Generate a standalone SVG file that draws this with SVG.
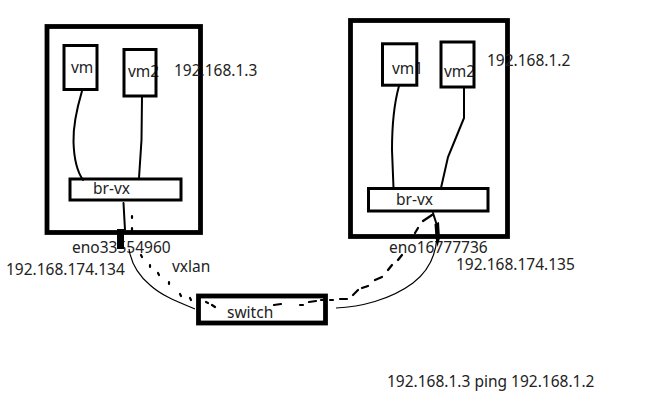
<svg xmlns="http://www.w3.org/2000/svg" width="647" height="412" viewBox="0 0 647 412">
<style>
.t{font-family:"Noto Sans","Liberation Sans",sans-serif;font-size:15.5px;fill:#222}
.host{fill:none;stroke:#000;stroke-width:4.8}
.box{fill:none;stroke:#000;stroke-width:3}
.wire{fill:none;stroke:#000;stroke-width:2;stroke-linecap:round}
.thin{fill:none;stroke:#000;stroke-width:1.2}
.dash{fill:none;stroke:#000;stroke-width:2.2;stroke-linecap:round}
</style>
<rect width="647" height="412" fill="#fff"/>
<g id="host-left">
  <rect class="host" x="47" y="26.5" width="153.5" height="206"/>
  <text class="t" x="174" y="76">192.168.1.3</text>
  <text class="t" x="72" y="253">eno33554960</text>
  <text class="t" x="6" y="275">192.168.174.134</text>
</g>
<g id="vm-left">
  <text class="t" x="71" y="73">vm</text>
  <rect class="box" x="64" y="45.5" width="33" height="44"/>
</g>
<g id="vm2-left">
  <text class="t" x="128" y="77">vm2</text>
  <rect class="box" x="124" y="49.5" width="32" height="46.5"/>
</g>
<g id="brvx-left">
  <rect class="box" x="70" y="179" width="111" height="21"/>
  <text class="t" x="93" y="194">br-vx</text>
</g>
<g id="host-right">
  <rect class="host" x="350.5" y="20.5" width="157" height="216"/>
  <text class="t" x="487" y="66">192.168.1.2</text>
  <text class="t" x="389" y="252.5">eno16777736</text>
  <text class="t" x="456" y="269.5">192.168.174.135</text>
</g>
<g id="vm1-right">
  <text class="t" x="392" y="74">vm1</text>
  <rect class="box" x="382.5" y="43.8" width="34.3" height="41.4"/>
</g>
<g id="vm2-right">
  <text class="t" x="444" y="77">vm2</text>
  <rect class="box" x="441" y="42" width="33" height="45"/>
</g>
<g id="brvx-right">
  <rect class="box" x="368.5" y="188.5" width="119.5" height="22.5"/>
  <text class="t" x="396" y="205">br-vx</text>
</g>
<g id="switch">
  <rect class="host" x="198.5" y="296" width="127" height="27" stroke-width="4.5"/>
  <text class="t" x="227" y="318">switch</text>
</g>
<g id="label-vxlan"><text class="t" x="172" y="272">vxlan</text></g>
<g id="label-ping"><text class="t" x="387" y="387">192.168.1.3 ping 192.168.1.2</text></g>
<g id="connectors">
  <path class="wire" d="M82,91 C77,108 73,125 73.5,142 C74,158 76,170 83,180"/>
  <path class="wire" d="M142,97 L141.5,140 L139,178"/>
  <path class="wire" d="M399,86 C394,104 392,125 392,150 L393.5,188"/>
  <path class="wire" d="M464,87 L464,118 L455,140 L448,157 L441,188"/>
  <path class="wire" d="M123.5,203 L125,230"/>
  <rect x="117" y="229" width="7" height="20" fill="#000"/>
  <path class="wire" d="M433,213 L436.5,224"/>
  <path d="M434.5,224 L439,222 L440,238 L437.5,247 L435.5,238 Z" fill="#000"/>
  <path class="thin" d="M129,249 C131,262 138,275 150,285 C162,296 178,302 195,309"/>
  <path class="thin" d="M336,308 C360,307 390,300 413,283 C430,270 436,253 437,237"/>
  <path class="dash" d="M132,216 L132,218 M132,228 L132,230 M141,255 L142,257 M150,265 L150,267 M158,273 L159,275 M169,282 L169,284 M180,294 L181,296 M190,298 L191,300 M206,302 L208,303 M212,305 L215,307 M274,305 L281,304 M300,305 L303,305 M309,302 L316,301 M321,300 L323,300 M330,300 L333,300 M340,299 L347,299 M353,295 L358,290 M362,288 L368,286 M375,280 L382,277 M388,270 L392,265 M398,260 L402,255 M415,233 L418,228 M423,221 L432,215"/>
</g>
</svg>
